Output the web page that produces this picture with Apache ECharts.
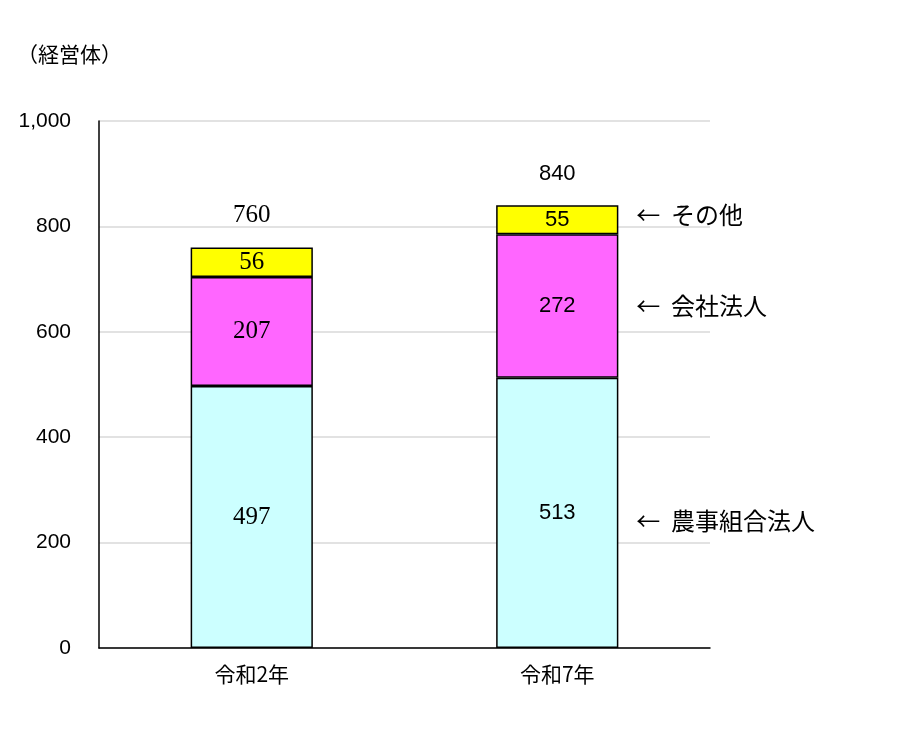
<!DOCTYPE html>
<html>
<head>
<meta charset="utf-8">
<script src="https://cdn.jsdelivr.net/npm/echarts@6/dist/echarts.min.js"></script>
<style>html,body{margin:0;padding:0;background:#fff}#c{width:912px;height:739px}</style>
</head>
<body>
<div id="c"></div>
<script>
var categories = ['令和2年', '令和7年'];
var seriesNames = ['農事組合法人', '会社法人', 'その他'];
var nouji = [497, 513];
var kaisha = [207, 272];
var sonota = [56, 55];
var totals = [760, 840];
var yTicks = [0, 200, 400, 600, 800, 1000];
var unitLabel = '（経営体）';

var colors = ['#CCFFFF', '#FF66FF', '#FFFF00'];
var cjk = '"Noto Sans CJK JP", sans-serif';
var styleKeys = ['serif', 'sans'];
var richStyles = {
  serif: { fontFamily: 'Liberation Serif', fontSize: 25, color: '#000' },
  sans: { fontFamily: 'Liberation Sans', fontSize: 22, color: '#000' }
};

function fmtByCat(p) {
  var v = Array.isArray(p.value) ? p.value[1] : p.value;
  return '{' + styleKeys[p.dataIndex] + '|' + v + '}';
}

var valueSets = [nouji, kaisha, sonota];
var series = valueSets.map(function (arr, k) {
  return {
    name: seriesNames[k],
    type: 'bar',
    stack: 'total',
    barWidth: '40%',
    data: arr,
    itemStyle: { color: colors[k], borderColor: '#000', borderWidth: 1.5 },
    label: { show: true, position: 'inside', color: '#000', formatter: fmtByCat, rich: richStyles },
    silent: true
  };
});

// totals above bars
series.push({
  type: 'scatter',
  symbolSize: 0,
  silent: true,
  itemStyle: { opacity: 1 },
  data: totals.map(function (v, i) { return [categories[i], v]; }),
  label: { show: true, position: 'top', distance: 20, color: '#000', formatter: fmtByCat, rich: richStyles }
});

// annotations beside the second bar at segment midpoints
var last = categories.length - 1;
var cum = 0;
var annOffsets = [[0, 8], [0, 0], [0, -5]];
var annData = valueSets.map(function (arr, k) {
  var mid = cum + arr[last] / 2;
  cum += arr[last];
  return { value: [categories[last], mid], name: seriesNames[k], label: { offset: annOffsets[k], color: '#000' } };
});
series.push({
  type: 'scatter',
  symbolSize: 0,
  silent: true,
  itemStyle: { opacity: 1 },
  data: annData,
  label: {
    show: true, position: 'right', distance: 79, color: '#000',
    fontFamily: cjk, fontSize: 24,
    formatter: function (p) { return '←  ' + p.name; }
  }
});

var chart = echarts.init(document.getElementById('c'), null, { renderer: 'canvas' });
chart.setOption({
  animation: false,
  backgroundColor: '#fff',
  title: {
    text: unitLabel, left: 12, top: 39,
    textStyle: { fontFamily: cjk, fontSize: 21, fontWeight: 'normal', color: '#000' }
  },
  grid: { left: 99, right: 202, top: 121, bottom: 91 },
  xAxis: {
    type: 'category',
    data: categories,
    axisLine: { lineStyle: { color: '#000', width: 1.5 } },
    axisTick: { show: false },
    axisLabel: { fontFamily: cjk, fontSize: 21, color: '#000', margin: 16 }
  },
  yAxis: {
    type: 'value',
    min: yTicks[0],
    max: yTicks[yTicks.length - 1],
    interval: yTicks[1] - yTicks[0],
    axisLine: { show: true, lineStyle: { color: '#000', width: 1.5 } },
    axisTick: { show: false },
    splitLine: { lineStyle: { color: '#d9d9d9', width: 1.5 } },
    axisLabel: {
      fontFamily: 'Liberation Sans', fontSize: 21, color: '#000', margin: 28,
      formatter: function (v) { return v.toLocaleString('en-US'); }
    }
  },
  series: series
});
</script>
</body>
</html>
